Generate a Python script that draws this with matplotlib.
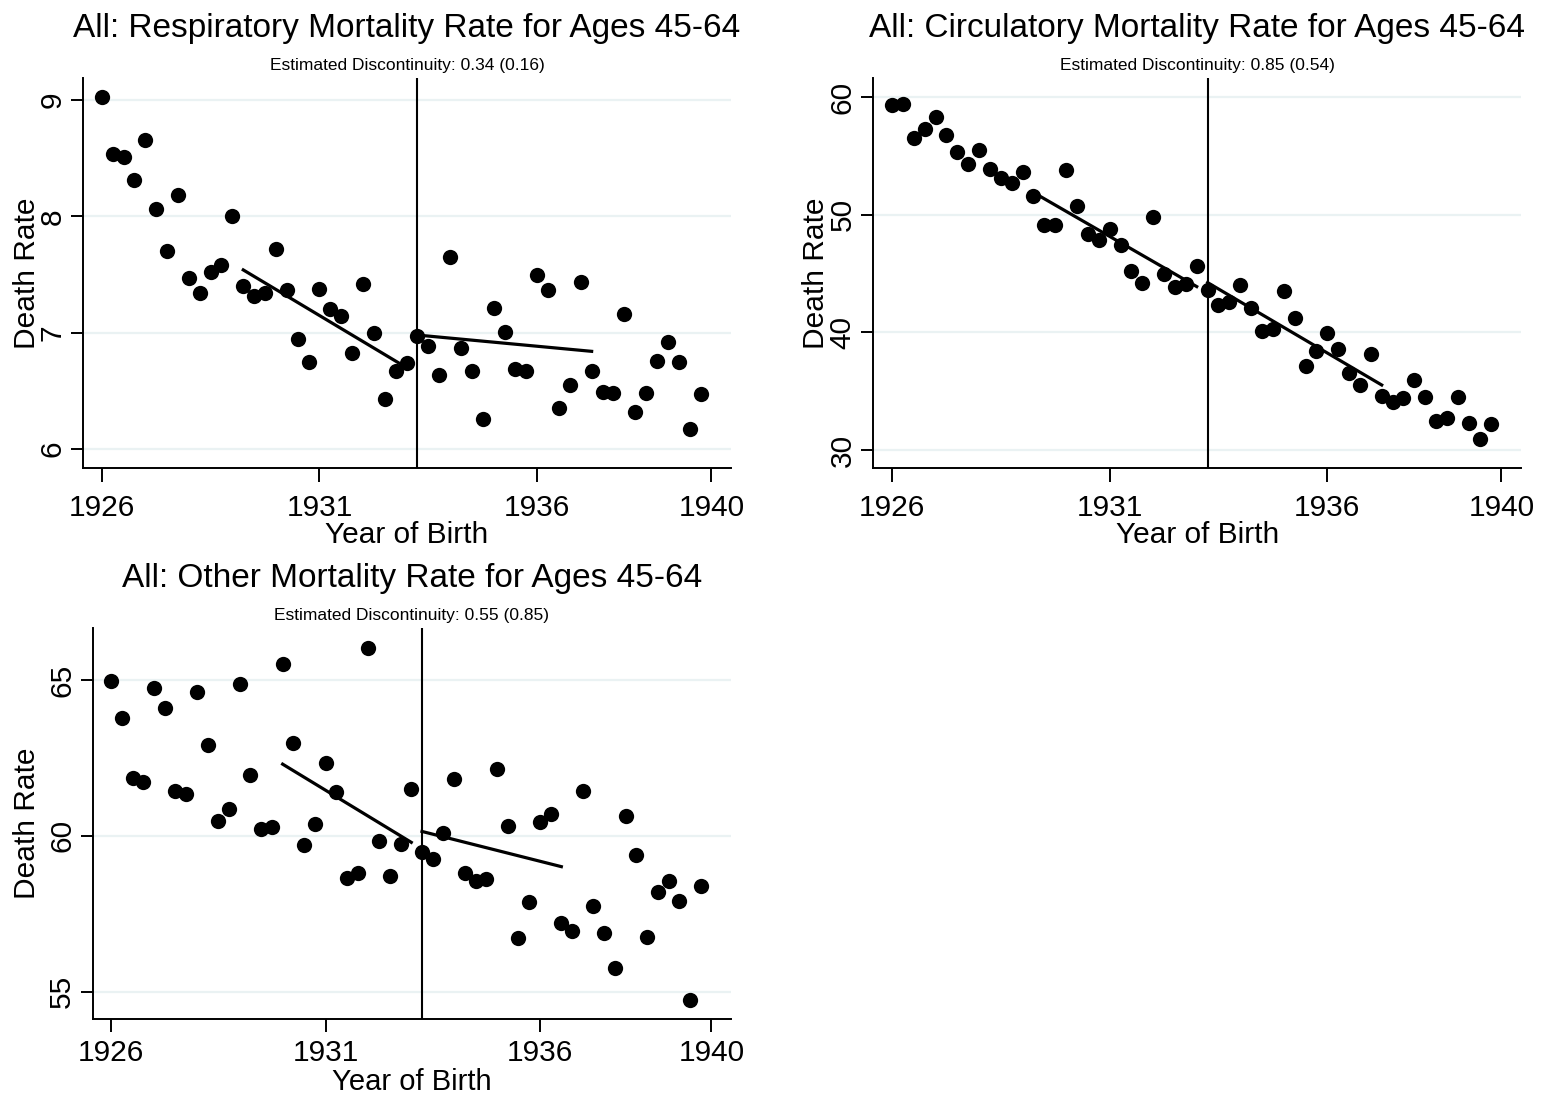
import numpy as np
import matplotlib
matplotlib.use("Agg")
import matplotlib.pyplot as plt

plt.rcParams['font.family'] = ['Liberation Sans', 'DejaVu Sans']

# quarterly birth cohorts
birth_year = [
    1926.00, 1926.25, 1926.50, 1926.75, 1927.00, 1927.25, 1927.50, 1927.75,
    1928.00, 1928.25, 1928.50, 1928.75, 1929.00, 1929.25, 1929.50, 1929.75,
    1930.00, 1930.25, 1930.50, 1930.75, 1931.00, 1931.25, 1931.50, 1931.75,
    1932.00, 1932.25, 1932.50, 1932.75, 1933.00, 1933.25, 1933.50, 1933.75,
    1934.00, 1934.25, 1934.50, 1934.75, 1935.00, 1935.25, 1935.50, 1935.75,
    1936.00, 1936.25, 1936.50, 1936.75, 1937.00, 1937.25, 1937.50, 1937.75,
    1938.00, 1938.25, 1938.50, 1938.75, 1939.00, 1939.25, 1939.50, 1939.75,
]

resp_rate = [
    9.03, 8.54, 8.51, 8.31, 8.66, 8.06, 7.70, 8.18, 7.47, 7.34,
    7.52, 7.58, 8.00, 7.40, 7.32, 7.34, 7.72, 7.37, 6.95, 6.75,
    7.38, 7.20, 7.14, 6.83, 7.42, 7.00, 6.43, 6.67, 6.74, 6.97,
    6.89, 6.64, 7.65, 6.87, 6.67, 6.26, 7.21, 7.01, 6.69, 6.67,
    7.50, 7.37, 6.35, 6.55, 7.44, 6.67, 6.49, 6.48, 7.16, 6.32,
    6.48, 6.76, 6.92, 6.75, 6.17, 6.47,
]
circ_rate = [
    59.35, 59.40, 56.57, 57.31, 58.36, 56.80, 55.32, 54.36, 55.55, 53.88,
    53.11, 52.68, 53.68, 51.64, 49.11, 49.11, 53.79, 50.76, 48.40, 47.87,
    48.83, 47.41, 45.23, 44.21, 49.82, 44.94, 43.90, 44.15, 45.62, 43.61,
    42.34, 42.56, 44.04, 42.05, 40.12, 40.27, 43.53, 41.26, 37.15, 38.42,
    39.93, 38.57, 36.52, 35.53, 38.14, 34.60, 34.11, 34.40, 35.96, 34.48,
    32.50, 32.70, 34.54, 32.33, 30.94, 32.19,
]
other_rate = [
    64.98, 63.77, 61.84, 61.72, 64.76, 64.10, 61.44, 61.35, 64.63, 62.93,
    60.48, 60.87, 64.87, 61.96, 60.23, 60.28, 65.52, 62.97, 59.70, 60.37,
    62.35, 61.42, 58.64, 58.80, 66.04, 59.84, 58.71, 59.74, 61.49, 59.49,
    59.25, 60.09, 61.82, 58.82, 58.55, 58.60, 62.14, 60.33, 56.71, 57.89,
    60.43, 60.69, 57.21, 56.96, 61.44, 57.75, 56.87, 55.77, 60.65, 59.39,
    56.74, 58.19, 58.55, 57.92, 54.73, 58.40,
]

# local fits either side of the cutoff
resp_fit_left_x, resp_fit_left_y = [1929.25, 1933.0], [7.54, 6.70]
resp_fit_right_x, resp_fit_right_y = [1933.25, 1937.25], [6.98, 6.84]
circ_fit_left_x, circ_fit_left_y = [1929.25, 1933.0], [51.90, 43.90]
circ_fit_right_x, circ_fit_right_y = [1933.25, 1937.25], [44.24, 35.53]
other_fit_left_x, other_fit_left_y = [1930.0, 1933.0], [62.30, 59.79]
other_fit_right_x, other_fit_right_y = [1933.25, 1936.5], [60.14, 59.01]

cutoff = 1933.25
xticks = [1926, 1931, 1936, 1940]

titles = ["All: Respiratory Mortality Rate for Ages 45-64",
          "All: Circulatory Mortality Rate for Ages 45-64",
          "All: Other Mortality Rate for Ages 45-64"]
subtitles = ["Estimated Discontinuity: 0.34 (0.16)",
             "Estimated Discontinuity: 0.85 (0.54)",
             "Estimated Discontinuity: 0.55 (0.85)"]
yticks = [[6, 7, 8, 9], [30, 40, 50, 60], [55, 60, 65]]
ylims = [(5.837, 9.19), (28.47, 61.64), (54.12, 66.67)]

panels = [
    (resp_rate, resp_fit_left_x, resp_fit_left_y, resp_fit_right_x, resp_fit_right_y),
    (circ_rate, circ_fit_left_x, circ_fit_left_y, circ_fit_right_x, circ_fit_right_y),
    (other_rate, other_fit_left_x, other_fit_left_y, other_fit_right_x, other_fit_right_y),
]

W, H = 1541, 1096
fig = plt.figure(figsize=(W / 100, H / 100), dpi=100)

# axes boxes in pixels: left, top, right, bottom
boxes = [(83, 78, 731, 468), (873.3, 78, 1521, 468), (92.7, 628, 730.7, 1019)]
ylab_px = [27, 816, 27]
# bottom panel sits against the figure edge, so its x labels are a bit tighter
xlab_off = [75, 75, 70.5]
xlab_size = [21.5, 21.5, 21]
xtick_pad = [9, 9, 5.5]
xtick_len = [10, 10, 9]

grid_col = '#eaf2f3'

for i, (rate, lx, ly, rx, ry) in enumerate(panels):
    l, t, r, b = boxes[i]
    ax = fig.add_axes([l / W, 1 - b / H, (r - l) / W, (b - t) / H])
    ax.set_xlim(1925.57, 1940.45)
    ax.set_ylim(*ylims[i])
    ax.set_xticks(xticks)
    ax.set_yticks(yticks[i])
    for y in yticks[i]:
        ax.axhline(y, color=grid_col, lw=1.6, zorder=0)

    ax.plot(birth_year, rate, 'o', color='black', ms=11, mew=0, zorder=3)
    ax.plot(lx, ly, color='black', lw=2.3, zorder=4)
    ax.plot(rx, ry, color='black', lw=2.3, zorder=4)
    ax.axvline(cutoff, color='black', lw=1.5, zorder=2)

    for s in ['top', 'right']:
        ax.spines[s].set_visible(False)
    for s in ['left', 'bottom']:
        ax.spines[s].set_linewidth(1.4)
    ax.tick_params(axis='x', length=xtick_len[i], width=1.4, pad=xtick_pad[i],
                   labelsize=21.5)
    ax.tick_params(axis='y', length=9, width=1.4, pad=3, labelsize=21.5,
                   labelrotation=90)
    for lab in ax.get_yticklabels():
        lab.set_va('center')

    h = b - t
    ax.text(0.5, 1 + 41 / h, titles[i], transform=ax.transAxes,
            ha='center', va='baseline', fontsize=24)
    ax.text(0.5, 1 + 8 / h, subtitles[i], transform=ax.transAxes,
            ha='center', va='baseline', fontsize=12.5)
    ax.text(0.5, -xlab_off[i] / h, "Year of Birth", transform=ax.transAxes,
            ha='center', va='baseline', fontsize=xlab_size[i])
    ax.text((ylab_px[i] - l) / (r - l), 0.5, "Death Rate", transform=ax.transAxes,
            ha='center', va='center', rotation=90, fontsize=21.5)

fig.savefig("out.png", dpi=100, facecolor='white')
